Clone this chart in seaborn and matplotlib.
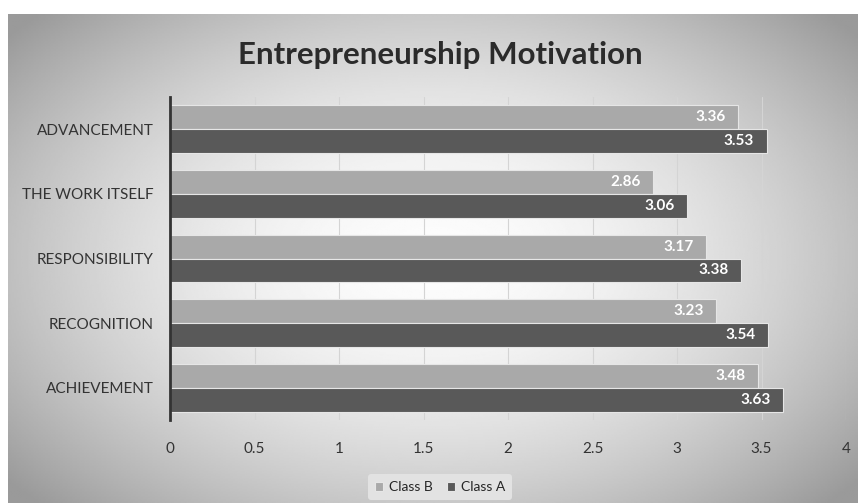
import matplotlib
matplotlib.use("Agg")
import matplotlib.pyplot as plt
import seaborn as sns
import numpy as np
import pandas as pd

# ==========================================
# DONNEES
# ==========================================
categories = ["ADVANCEMENT", "THE WORK ITSELF", "RESPONSIBILITY", "RECOGNITION", "ACHIEVEMENT"]
class_b = [3.36, 2.86, 3.17, 3.23, 3.48]
class_a = [3.53, 3.06, 3.38, 3.54, 3.63]
series = ["Class B", "Class A"]
couleurs = {"Class B": "#a9a9a9", "Class A": "#595959"}
x_ticks = [0, 0.5, 1, 1.5, 2, 2.5, 3, 3.5, 4]
x_labels = ["0", "0.5", "1", "1.5", "2", "2.5", "3", "3.5", "4"]

df = pd.DataFrame({
    "categorie": categories * 2,
    "serie": ["Class B"] * len(categories) + ["Class A"] * len(categories),
    "valeur": class_b + class_a,
})

sns.set_style("white")
plt.rcParams["font.family"] = ["Lato", "DejaVu Sans"]

fig = plt.figure(figsize=(8.58, 5.03), dpi=100)
fig.patch.set_facecolor("white")

# fond en dégradé radial (clair au centre, gris sur les bords)
bg = fig.add_axes([8 / 858, 0, 1 - 8 / 858, 1 - 14 / 503], zorder=0)
yy, xx = np.mgrid[-1:1:300j, -1:1:500j]
r = np.sqrt((xx / 1.0) ** 2 + (yy / 1.1) ** 2)
bg.imshow(0.99 - 0.24 * np.clip(r, 0, 1.3) ** 1.8, cmap="gray", vmin=0, vmax=1,
          aspect="auto", extent=[0, 1, 0, 1])
bg.axis("off")

ax = fig.add_axes([170 / 858, 1 - 420 / 503, 676 / 858, 323 / 503], zorder=1)
ax.patch.set_alpha(0)

sns.barplot(data=df, x="valeur", y="categorie", hue="serie", hue_order=series,
            order=categories, palette=couleurs, orient="h", width=0.74,
            edgecolor="#e6e6e6", linewidth=0.8, ax=ax, zorder=3)

# étiquettes de valeur à l'intérieur, alignées à droite
for cont in ax.containers:
    textes = ax.bar_label(cont, fmt="%.2f", padding=-9, color="white",
                          fontsize=11, fontweight="bold")
    for t in textes:
        t.set_ha("right")

ax.set_xlim(0, 4)
ax.set_ylim(4.5, -0.5)
ax.set_xticks(x_ticks)
ax.set_xticklabels(x_labels, fontsize=11, color="#333333")
ax.tick_params(axis="x", length=5, width=0.8, color="#888888", pad=11)
ax.tick_params(axis="y", length=0, pad=12, labelsize=11, labelcolor="#333333")
ax.xaxis.grid(True, color="#d4d4d4", linewidth=0.8, zorder=0)
ax.set_axisbelow(True)
ax.set_xlabel("")
ax.set_ylabel("")
for s in ["top", "right", "bottom"]:
    ax.spines[s].set_visible(False)
ax.spines["left"].set_color("#333333")
ax.spines["left"].set_linewidth(2)
ax.spines["left"].set_zorder(5)

fig.text(440 / 858, 1 - 55 / 503, "Entrepreneurship Motivation", ha="center",
         va="center", fontsize=22.5, fontweight="bold", color="#2b2b2b")

handles, labels = ax.get_legend_handles_labels()
ax.legend_.remove()
leg = fig.legend(handles, labels, loc="center", bbox_to_anchor=(440 / 858, 1 - 487 / 503),
                 ncol=2, frameon=True, fontsize=10, handlelength=0.6, handleheight=0.6,
                 handletextpad=0.4, columnspacing=1.0, borderpad=0.5)
leg.get_frame().set_facecolor("#e2e2e2")
leg.get_frame().set_edgecolor("none")
leg.get_frame().set_alpha(1)

plt.savefig("out.png", dpi=100)
plt.close()
